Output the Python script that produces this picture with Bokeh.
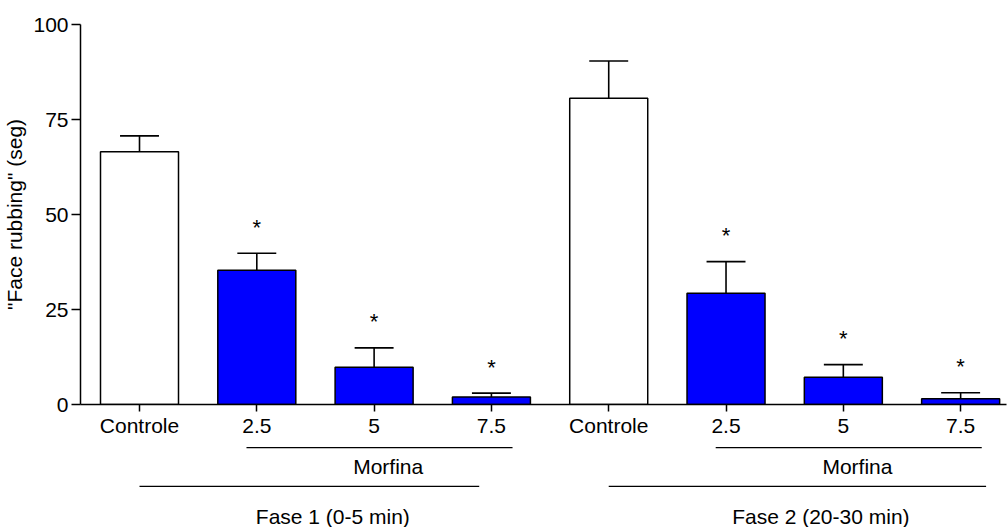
from bokeh.plotting import figure
from bokeh.models import ColumnDataSource, FixedTicker, Range1d
from bokeh.layouts import column
from bokeh.core.properties import value
from bokeh.embed import file_html
from bokeh.resources import INLINE

# ---- data -------------------------------------------------------------
doses = ["Controle", "2.5", "5", "7.5"]
phases = ["Fase 1 (0-5 min)", "Fase 2 (20-30 min)"]
treatment = "Morfina"
mean_fase1 = [66.5, 35.3, 9.8, 2.0]
sem_fase1 = [4.2, 4.5, 5.1, 1.0]
mean_fase2 = [80.6, 29.3, 7.2, 1.5]
sem_fase2 = [9.8, 8.3, 3.3, 1.6]
signif_fase1 = [False, True, True, True]
signif_fase2 = [False, True, True, True]
y_ticks = [0, 25, 50, 75, 100]
y_title = '"Face rubbing" (seg)'

FONT = "Liberation Sans"
BLUE = "#0000FF"

n = len(doses)
xs = list(range(2 * n))
means = mean_fase1 + mean_fase2
sems = sem_fase1 + sem_fase2
signif = signif_fase1 + signif_fase2
tops = [m + s for m, s in zip(means, sems)]
fills = ["white" if d == "Controle" else BLUE for d in doses] * 2

bars = ColumnDataSource(dict(x=xs, top=means, fill=fills, err=tops))
stars = ColumnDataSource(dict(
    x=[x for x, s in zip(xs, signif) if s],
    y=[t for t, s in zip(tops, signif) if s],
    t=["*" for s in signif if s],
))

x_range = Range1d(-0.503, 7.391)

# ---- main bar chart -----------------------------------------------------
p = figure(width=1008, height=440, output_backend="svg", toolbar_location=None,
           x_range=x_range, y_range=Range1d(0, 100),
           min_border_left=80, min_border_right=2, min_border_top=24,
           min_border_bottom=36)
p.outline_line_color = None
p.grid.visible = False

bar_w = 0.665
cap_half = 0.166
p.vbar(x="x", top="top", bottom=0, width=bar_w, source=bars,
       fill_color="fill", line_color="black", line_width=1.5)
p.segment(x0="x", y0="top", x1="x", y1="err", source=bars,
          line_color="black", line_width=1.6)
cap_x0 = [x - cap_half for x in xs]
cap_x1 = [x + cap_half for x in xs]
p.segment(x0=cap_x0, y0=tops, x1=cap_x1, y1=tops,
          line_color="black", line_width=1.6)
p.text(x="x", y="y", text="t", source=stars, y_offset=-26,
       text_align="center", text_baseline="alphabetic",
       text_font=value(FONT), text_font_size="22px", text_color="black")

for ax in (p.xaxis[0], p.yaxis[0]):
    ax.axis_line_color = "black"
    ax.axis_line_width = 1.5
    ax.major_tick_line_color = "black"
    ax.major_tick_line_width = 1.5
    ax.minor_tick_line_color = None
    ax.major_tick_in = 0
    ax.major_label_text_font = FONT
    ax.major_label_text_font_size = "21px"
    ax.major_label_text_color = "black"

p.yaxis.ticker = FixedTicker(ticks=y_ticks)
p.yaxis.major_tick_out = 9
p.yaxis.major_label_standoff = 3
p.yaxis.axis_label = y_title
p.yaxis.axis_label_text_font = FONT
p.yaxis.axis_label_text_font_size = "21px"
p.yaxis.axis_label_text_font_style = "normal"
p.yaxis.axis_label_text_color = "black"
p.yaxis.axis_label_standoff = 4

p.xaxis.ticker = FixedTicker(ticks=xs)
p.xaxis.major_label_overrides = {x: lab for x, lab in zip(xs, doses * 2)}
p.xaxis.major_tick_out = 7
p.xaxis.major_label_standoff = 2

# ---- group brackets under the axis (same x scale, 3.8 px per unit) -------
b = figure(width=1008, height=87, output_backend="svg", toolbar_location=None,
           x_range=x_range, y_range=Range1d(-32.5, -9.6),
           min_border_left=80, min_border_right=2, min_border_top=0,
           min_border_bottom=0, x_axis_location=None, y_axis_location=None)
b.outline_line_color = None
b.grid.visible = False

line_x0, line_x1, line_y = [], [], []
cap_x, cap_y, cap_t = [], [], []
for g, name in enumerate(phases):
    base = g * n
    line_x0.append(base + 0.912)
    line_x1.append(base + 3.18)
    line_y.append(-11.5)
    cap_x.append(base + 2.12)
    cap_y.append(-16.4)
    cap_t.append(treatment)
    fase_end = base + (2.896 if g == 0 else 3.217)
    line_x0.append(base)
    line_x1.append(fase_end)
    line_y.append(-21.7)
    cap_x.append(base + (fase_end - base) / 2 + 0.2)
    cap_y.append(-29.6)
    cap_t.append(name)

b.segment(x0=line_x0, y0=line_y, x1=line_x1, y1=line_y,
          line_color="black", line_width=1.3)
b.text(x=cap_x, y=cap_y, text=cap_t, text_align="center",
       text_baseline="middle", text_font=value(FONT),
       text_font_size="21px", text_color="black")

open("out.html", "w").write(file_html(column(p, b, spacing=0), INLINE))
